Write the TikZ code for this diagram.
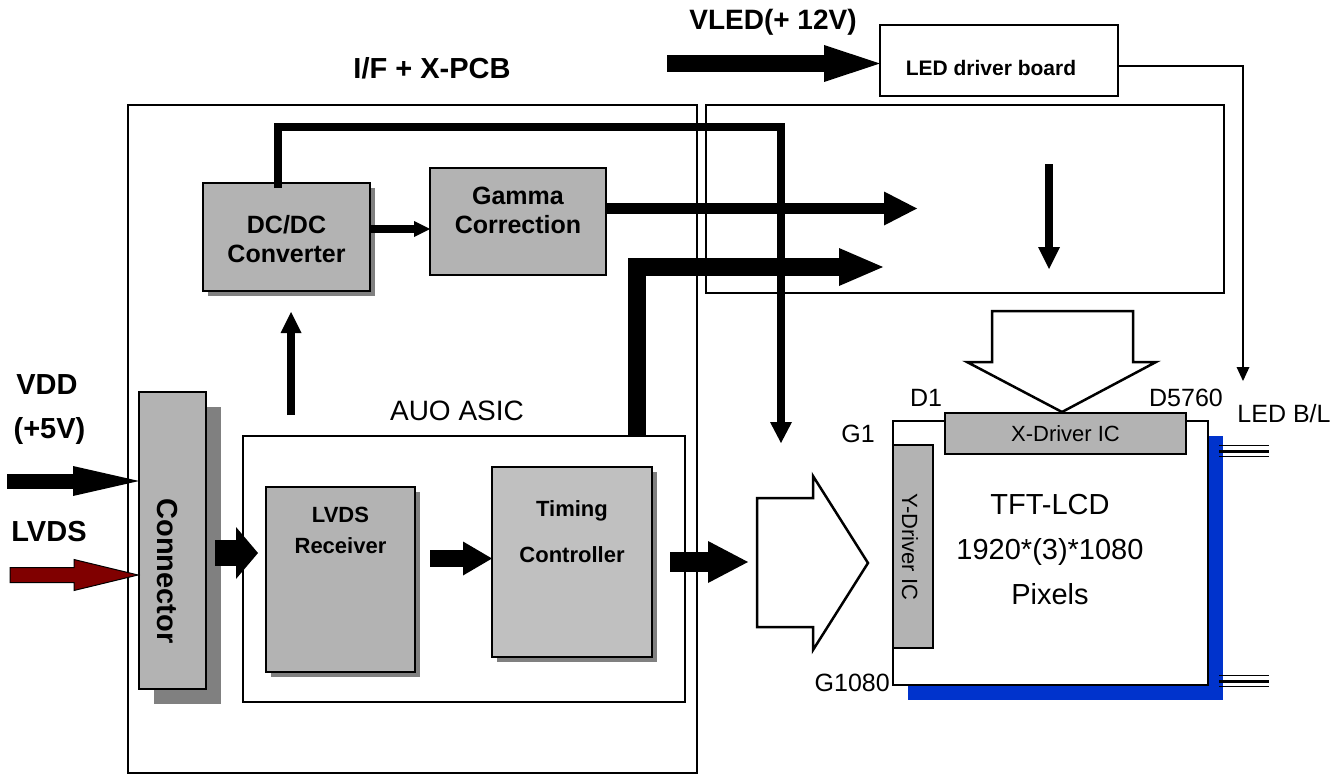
\documentclass[tikz,border=0pt]{standalone}
\usepackage{fontspec}
\setmainfont{Liberation Sans}
\usetikzlibrary{arrows.meta,shadows}
\definecolor{boxgray}{HTML}{B3B3B3}
\definecolor{tcgray}{HTML}{C0C0C0}
\definecolor{shadowgray}{HTML}{808080}
\definecolor{blbar}{HTML}{0033CC}
\definecolor{lvdsred}{HTML}{800000}
\begin{document}
\begin{tikzpicture}[x=1pt,y=-1pt,
  frame/.style={draw, line width=1.5pt, inner sep=0pt, outer sep=0pt},
  graybox/.style={draw, line width=2.5pt, fill=boxgray, inner sep=0pt, outer sep=0pt},
  whitebox/.style={draw, line width=2.5pt, fill=white, inner sep=0pt, outer sep=0pt},
  shad/.style={drop shadow={shadow xshift=#1pt, shadow yshift=-#1pt, fill=shadowgray, opacity=1}},
  fatarr/.style n args={3}{line width=#1pt, -{Triangle[length=#2pt,width=#3pt,line width=0pt]}},
  hollow/.style={draw, line width=2.5pt, fill=white, line join=miter},
  bl/.style={font=\fontsize{29}{34}\selectfont\bfseries, inner sep=0pt},
  rl/.style={font=\fontsize{25}{30}\selectfont, inner sep=0pt},
]
\useasboundingbox (0,0) rectangle (1342,776);

% frames
\node[frame, minimum width=569pt, minimum height=668pt] (ifpcb) at (412.5,439) {};
\node[frame, minimum width=518pt, minimum height=188pt] (xpcb) at (965,199) {};
\node[bl, font=\fontsize{29}{34}\selectfont\bfseries] (ifxt) at (432,68) {I/F + X-PCB};

% LED driver board
\node[whitebox, minimum width=238pt, minimum height=71pt] (leddrv) at (999,60.5) {};
\node[inner sep=0pt, font=\fontsize{21}{25}\selectfont\bfseries] (leddrvt) at (991,68) {LED driver board};
\node[inner sep=0pt, anchor=base, font=\fontsize{28}{33}\selectfont\bfseries] (vledt) at (773,30) {VLED(+ 12V)};
\coordinate (vledin) at (667,63.5);
\draw[fatarr={17}{56}{37}] (vledin) -- (vledin -| leddrv.west);
\coordinate (bltip) at (1243,381);
\coordinate (ledout) at (1118,66);
\draw[line width=1.5pt, -{Triangle[length=14pt,width=13pt,line width=0pt]}] (ledout) -| (bltip);

% DC/DC and Gamma
\node[graybox, shad=5, minimum width=167pt, minimum height=108pt] (dcdc) at (286.5,237) {};
\node[align=center, inner sep=0pt, font=\fontsize{25}{29}\selectfont\bfseries] (dcdct) at (286.5,239.5) {DC/DC\\Converter};
\node[graybox, minimum width=176pt, minimum height=107pt] (gamma) at (518,221.5) {};
\node[align=center, inner sep=0pt, font=\fontsize{25}{29}\selectfont\bfseries] (gammat) at (518,210.5) {Gamma\\Correction};

% AUO ASIC
\node[draw, line width=2pt, inner sep=0pt, minimum width=442pt, minimum height=266pt] (asic) at (464,569) {};
\node[inner sep=0pt, font=\fontsize{28}{33}\selectfont] (asict) at (457,411) {AUO ASIC};
\node[graybox, shad=5, minimum width=149pt, minimum height=185pt] (lvdsrx) at (340.5,579.5) {};
\node[align=center, inner sep=0pt, font=\fontsize{22}{31}\selectfont\bfseries] (lvdsrxt) at (340.5,530.5) {LVDS\\Receiver};
\node[graybox, fill=tcgray, shad=5, minimum width=160pt, minimum height=190pt] (tcon) at (572,562) {};
\node[align=center, inner sep=0pt, font=\fontsize{22}{46}\selectfont\bfseries] (tcont) at (572,532) {Timing\\Controller};

% Connector
\node[graybox, line width=2pt, shad=15, minimum width=67pt, minimum height=297pt] (conn) at (172.5,540.5) {};
\node[rotate=-90, inner sep=0pt, font=\fontsize{29}{34}\selectfont\bfseries] (connt) at (167.5,571) {Connector};

% input labels and arrows
\node[bl] (vddt) at (47,385) {VDD};
\node[bl] (vddv) at (49.5,431) {(+5V)};
\node[bl] (lvdst) at (49,532) {LVDS};
\coordinate (vddin) at (7,481);
\draw[fatarr={15}{66}{30}] (vddin) -- (vddin -| conn.west);
\draw[line width=1pt, fill=lvdsred, line join=miter] (10,567.5) -- (74,567.5) -- (74,559.5) -- (138,575) -- (74,590.5) -- (74,582.5) -- (10,582.5) -- cycle;

% internal arrows
\coordinate (c2l) at (215,553);
\draw[fatarr={26}{22}{52}] (c2l) -- (258,553);
\coordinate (l2t) at (430,558.5);
\draw[fatarr={17}{29}{34}] (l2t) -- (l2t -| tcon.west);
\coordinate (upbase) at (291,415);
\coordinate (uptip) at (291,312);
\draw[fatarr={8}{21}{21}] (upbase) -- (uptip);
\coordinate (dg) at (371,229);
\draw[fatarr={8}{16}{16}] (dg) -- (dg -| gamma.west);
\coordinate (gtip) at (917,208.5);
\draw[fatarr={11}{33}{34}] (gtip -| gamma.east) -- (gtip);
\coordinate (dcout) at (278,188);
\coordinate (xdtip) at (781,443);
\draw[fatarr={8}{21}{22}] (dcout) |- (781,127) -- (xdtip);
\coordinate (tup) at (637,436);
\coordinate (ttip) at (883,267);
\draw[fatarr={18}{44}{38}] (tup) |- (ttip);
\coordinate (xdn1) at (1049,164);
\coordinate (xdn2) at (1049,269);
\draw[fatarr={8}{22}{22}] (xdn1) -- (xdn2);
\coordinate (t2h) at (670,562);
\draw[fatarr={20}{40}{42}] (t2h) -- (748,562);

% hollow arrows
\draw[hollow] (757,498) -- (813,498) -- (813,476) -- (868,563) -- (813,650) -- (813,627) -- (757,627) -- cycle;
\draw[hollow] (992,311) -- (1133,311) -- (1133,362) -- (1156,362) -- (1062,412) -- (967,362) -- (992,362) -- cycle;

% TFT panel
\node[whitebox, drop shadow={shadow xshift=15pt, shadow yshift=-15pt, fill=blbar, opacity=1}, minimum width=315pt, minimum height=264pt] (tft) at (1050.5,553) {};
\node[align=center, inner sep=0pt, font=\fontsize{29}{45}\selectfont] (tftt) at (1050,550) {TFT-LCD\\1920*(3)*1080\\Pixels};
\node[graybox, minimum width=241pt, minimum height=41pt, font=\fontsize{22}{26}\selectfont] (xdrv) at (1065.5,433.5) {X-Driver IC};
\node[graybox, minimum width=40pt, minimum height=203pt] (ydrv) at (913,546.5) {};
\node[rotate=-90, inner sep=0pt, font=\fontsize{22}{26}\selectfont] (ydrvt) at (910,547) {Y-Driver IC};
\node[rl] (d1) at (926,398) {D1};
\node[rl] (d5760) at (1186,398) {D5760};
\node[rl] (g1) at (858,434) {G1};
\node[rl, anchor=east] (g1080) at (890,683) {G1080};
\node[rl] (ledbl) at (1284,414) {LED B/L};

% backlight leads
\draw[line width=1.5pt] (1219,445.5) -- (1269,445.5);
\draw[line width=3pt] (1219,451) -- (1269,451);
\draw[line width=1.5pt] (1219,456.5) -- (1269,456.5);
\draw[line width=1.5pt] (1219,675.5) -- (1269,675.5);
\draw[line width=3pt] (1219,681) -- (1269,681);
\draw[line width=1.5pt] (1219,686.5) -- (1269,686.5);
\end{tikzpicture}
\end{document}
